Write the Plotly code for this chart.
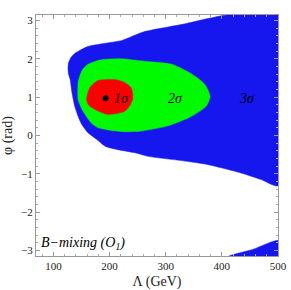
import plotly.graph_objects as go
import math

PI = math.pi

# Blue (3 sigma) region boundary: main band
blue_lam = [130, 127, 126, 127, 131, 138, 161, 190, 222, 260, 330, 409, 500,
            500, 470, 430, 372, 320, 271, 245, 215, 192, 177, 161, 150, 144, 138, 133, 130]
blue_phi = [1.45, 1.60, 1.75, 1.90, 2.03, 2.14, 2.32, 2.40, 2.48, 2.70, 2.90, PI, PI,
            -1.31, -1.15, -0.96, -0.75, -0.64, -0.55, -0.45, -0.37, -0.28, -0.10, 0.08, 0.30, 0.50, 0.76, 1.12, 1.45]

# Blue region wrapped around phi = -pi
blue2_lam = [413, 455, 500, 500, 413]
blue2_phi = [-PI, -2.97, -2.74, -PI, -PI]

# Green (2 sigma) region boundary
green_lam = [144, 147, 152, 161, 183, 220, 253, 290, 312, 342, 365, 372, 379,
             372, 342, 301, 253, 225, 200, 180, 168, 151, 144, 144]
green_phi = [1.38, 1.55, 1.72, 1.85, 1.97, 2.00, 1.95, 1.90, 1.85, 1.64, 1.40, 1.28, 1.02,
             0.76, 0.47, 0.24, 0.11, 0.10, 0.14, 0.20, 0.32, 0.68, 0.94, 1.38]

# Red (1 sigma) region boundary
red_lam = [159, 165, 179, 209, 227, 238, 241, 241, 236, 227, 197, 174, 163, 159]
red_phi = [0.94, 1.25, 1.43, 1.46, 1.38, 1.25, 1.12, 0.94, 0.78, 0.63, 0.55, 0.68, 0.79, 0.94]

# Best-fit point
best_lam = [193]
best_phi = [0.97]

# Labels
sig_labels = ["1σ", "2σ", "3σ"]
sig_lam = [222, 317, 445]
sig_phi = [0.97, 0.97, 0.97]

x_ticks = [100, 200, 300, 400, 500]
y_ticks = [-3, -2, -1, 0, 1, 2, 3]

BLUE = "rgb(22,22,238)"
GREEN = "rgb(0,250,0)"
RED = "rgb(250,0,0)"
SERIF = "Liberation Serif, Times New Roman, serif"

fig = go.Figure()
for lx, ly, col in [(blue_lam, blue_phi, BLUE), (blue2_lam, blue2_phi, BLUE),
                    (green_lam, green_phi, GREEN), (red_lam, red_phi, RED)]:
    fig.add_trace(go.Scatter(x=lx, y=ly, mode="lines", fill="toself",
                             fillcolor=col, line=dict(color=col, width=0.5, shape="spline", smoothing=0.6),
                             hoverinfo="skip", showlegend=False))

fig.add_trace(go.Scatter(x=best_lam, y=best_phi, mode="markers",
                         marker=dict(color="black", size=6), showlegend=False))

for t, x, y in zip(sig_labels, sig_lam, sig_phi):
    fig.add_annotation(x=x, y=y, text="<i>" + t + "</i>", showarrow=False,
                       font=dict(family=SERIF, size=14, color="black"))

fig.add_annotation(x=0.013, y=0.05, xref="paper", yref="paper", xanchor="left", yanchor="middle",
                   text="<i>B−mixing (O<sub>1</sub>)</i>", showarrow=False,
                   font=dict(family=SERIF, size=14, color="black"))

axis_common = dict(
    automargin=False,
    showgrid=False, zeroline=False, showline=True, linecolor="#999999", linewidth=1,
    mirror="allticks", ticks="inside", ticklen=4, tickcolor="#999999", tickwidth=1,
    tickfont=dict(family=SERIF, size=11, color="#222222"),
)

fig.update_xaxes(range=[69, 500], tickvals=x_ticks,
                 minor=dict(dtick=20, ticklen=2, tickcolor="#aaaaaa", ticks="inside"),
                 title=dict(text="Λ (GeV)", font=dict(family=SERIF, size=14, color="#222222"), standoff=4),
                 **axis_common)
fig.update_yaxes(range=[-PI, PI], tickvals=y_ticks,
                 minor=dict(dtick=0.2, ticklen=2, tickcolor="#aaaaaa", ticks="inside"),
                 title=dict(text="φ (rad)", font=dict(family=SERIF, size=14, color="#222222"), standoff=6),
                 **axis_common)

fig.update_layout(width=291, height=290, margin=dict(l=36, r=13, t=15, b=34),
                  plot_bgcolor="white", paper_bgcolor="white", showlegend=False)

fig.write_html("out.html", config={"displayModeBar": False},
               post_script="document.body.style.margin='0';document.body.style.overflow='hidden';")
